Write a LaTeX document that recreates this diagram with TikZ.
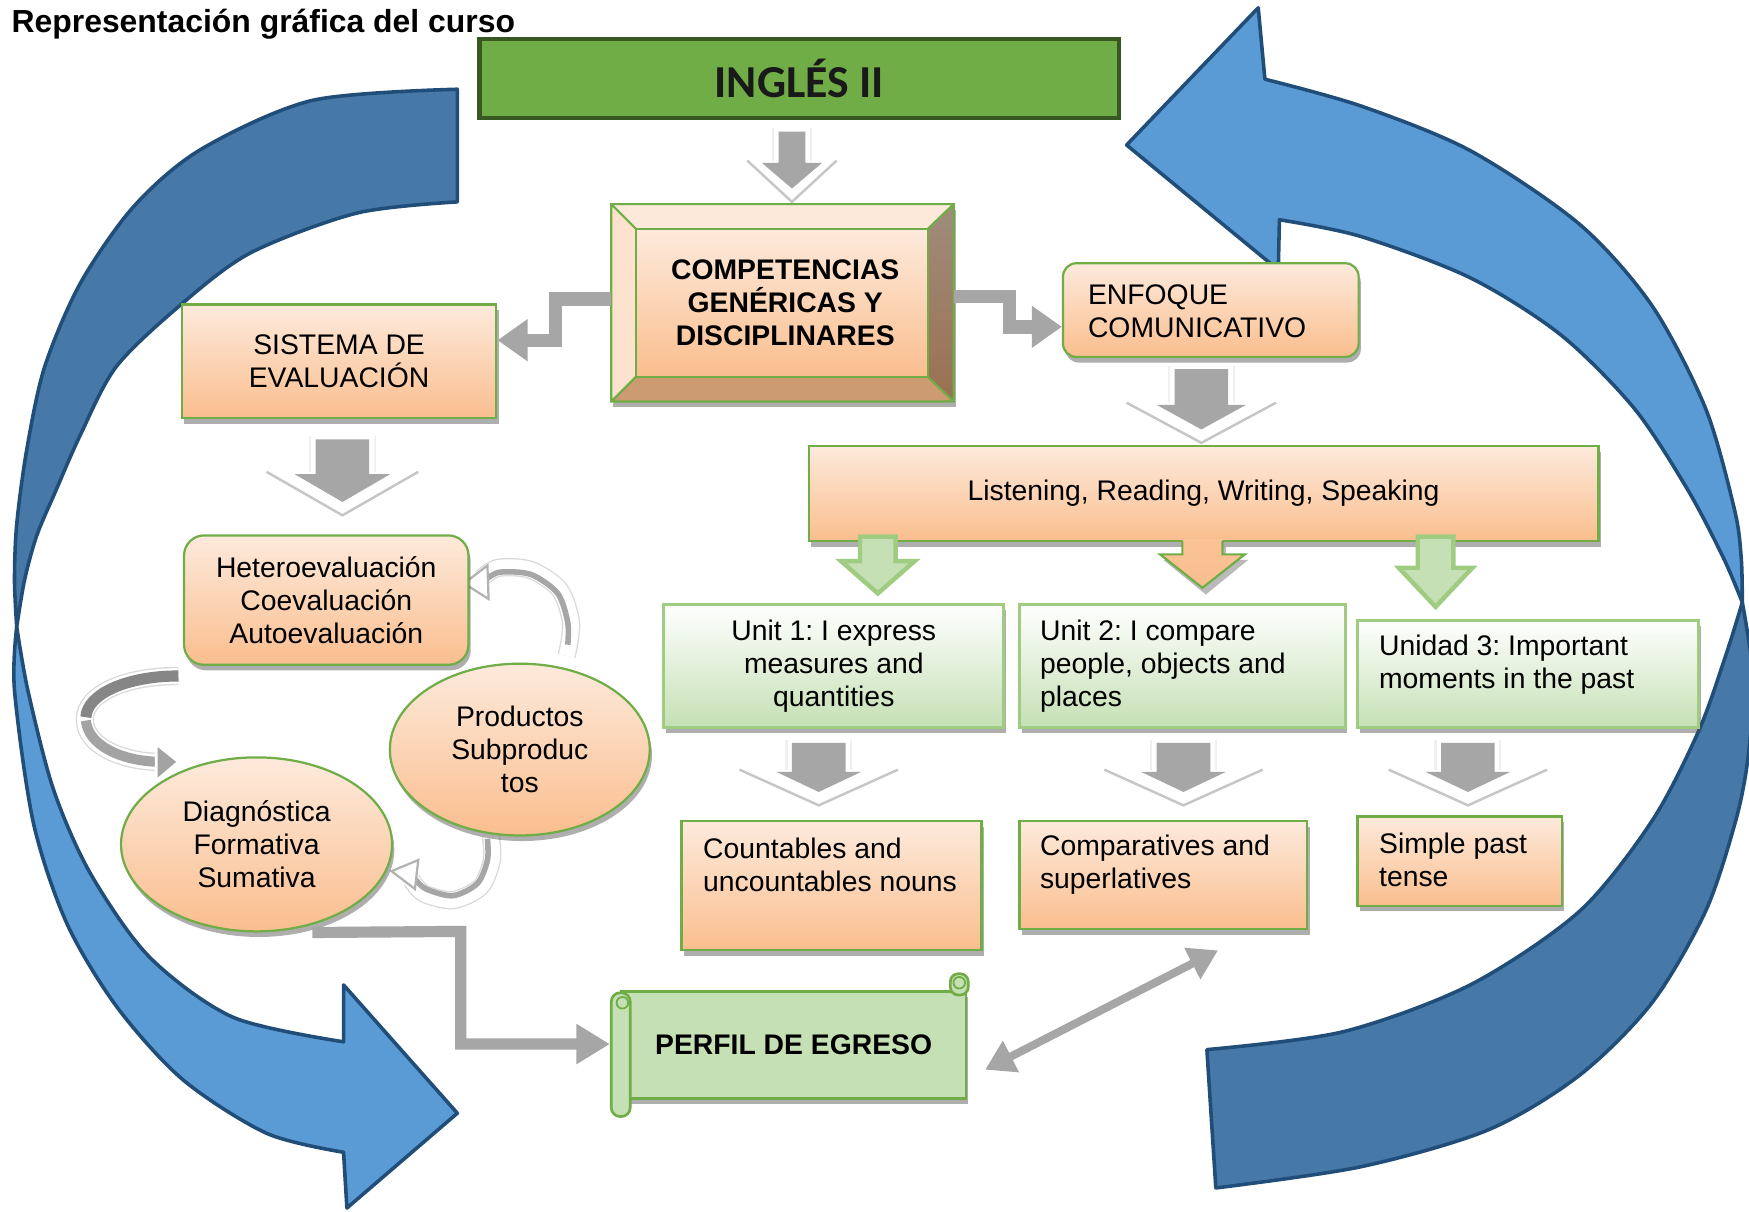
\documentclass[tikz,border=0pt]{standalone}
\usepackage{fontspec}
\setmainfont{Liberation Sans}
\newfontfamily\carlito{Carlito}
\usetikzlibrary{shapes.geometric,shadows,arrows.meta,calc}
\frenchspacing

\definecolor{peachtop}{RGB}{253,234,220}
\definecolor{peachbot}{RGB}{250,190,142}
\definecolor{peachmid}{RGB}{252,206,170}
\definecolor{bgreen}{RGB}{112,173,71}
\definecolor{lgreen}{RGB}{197,224,180}
\definecolor{mgreen}{RGB}{160,204,130}
\definecolor{inggreen}{RGB}{112,173,71}
\definecolor{ingborder}{RGB}{56,87,35}
\definecolor{gar}{RGB}{166,166,166}
\definecolor{bluel}{RGB}{91,155,213}
\definecolor{blued}{RGB}{70,121,168}
\definecolor{blueb}{RGB}{32,78,121}
\definecolor{bevtop}{RGB}{253,233,218}
\definecolor{bevleft}{RGB}{253,226,205}
\definecolor{bevbot}{RGB}{204,155,114}
\definecolor{bevrone}{RGB}{160,140,125}
\definecolor{bevrtwo}{RGB}{154,112,80}

\newcommand\gdown[8]{% name cx ytop yhead ytip s h c
  \fill[white] (#2-#8,#4-2) -- (#2,#5+12) -- (#2+#8,#4-2) -- cycle;
  \draw[gray!45, line width=1.1pt] (#2-#8,#4-2) -- (#2,#5+12) -- (#2+#8,#4-2);
  \draw[gray!12, line width=1pt] (#2-#6-5,#3-3) -- (#2-#6-5,#4-2) (#2+#6+5,#3-3) -- (#2+#6+5,#4-2);
  \fill[gar] (#2-#6,#3) -- (#2-#6,#4) -- (#2-#7,#4) -- (#2,#5) -- (#2+#7,#4) -- (#2+#6,#4) -- (#2+#6,#3) -- cycle;
  \coordinate (#1) at (#2,#5);}

\newcommand\blockdown[7]{% style cx ytop yhead ytip s h
  \path[#1] (#2-#6,#3) -- (#2-#6,#4) -- (#2-#7,#4) -- (#2,#5) -- (#2+#7,#4) -- (#2+#6,#4) -- (#2+#6,#3) -- cycle;}

\tikzset{
  txt/.style={font=\fontsize{12.7}{14.8}\selectfont, inner sep=0pt},
  btxt/.style={font=\bfseries\fontsize{12.7}{14.8}\selectfont, inner sep=0pt},
  shad/.style={drop shadow={shadow xshift=1pt, shadow yshift=-2.5pt, opacity=0.45, fill=black!70}},
  pbox/.style={rectangle, draw=bgreen, line width=1pt, top color=peachtop, bottom color=peachbot, shad, align=center, txt},
  gbox/.style={rectangle, draw=mgreen, line width=1.3pt, top color=white, bottom color=lgreen, shad, align=center, txt},
  pell/.style={ellipse, draw=bgreen, line width=1pt, top color=peachtop, bottom color=peachbot, shad, align=center, txt},
  blueL/.style={fill=bluel, draw=blueb, line width=1.6pt, line join=round},
  blueD/.style={fill=blued, draw=blueb, line width=1.6pt, line join=round},
  elb/.style={draw=gar, line width=6pt, -{Triangle[length=13.5pt,width=18pt]}},
  elbtwo/.style={draw=gar, line width=5pt, -{Triangle[length=15pt,width=17pt]}},
  cyc/.style={draw=gray!30, line width=0.6pt, double=white, double distance=7pt, line cap=butt},
}

\begin{document}
\begin{tikzpicture}[x=0.5pt,y=-0.5pt]
\useasboundingbox (0,0) rectangle (1568,1086);
\clip (0,0) rectangle (1568,1086);
\fill[white] (0,0) rectangle (1568,1086);

% ---------- big blue arrows ----------
\path[blueL] plot[smooth] coordinates {(15,562) (13,619) (30,738) (60,828) (105,903) (164,968) (239,1016) (308,1033)}
  -- (311,1083) -- (410,998) -- (308,883) -- (308,934)
  -- plot[smooth] coordinates {(308,934) (209,912) (134,858) (81,783) (48,708) (25,619) (15,562)} -- cycle;
\path[blueD] plot[smooth] coordinates {(410,80) (280,90) (180,134) (120,185) (72,254) (40,329) (24,403) (15,470) (13,520) (15,562)}
  -- plot[smooth] coordinates {(15,562) (22,520) (33,480) (50,440) (72,390) (104,329) (160,275) (224,227) (320,191) (410,181)} -- cycle;

\path[blueD] plot[smooth] coordinates {(1562,540) (1572,610) (1567,680) (1556,736) (1529,817) (1481,899) (1416,964) (1334,1013) (1220,1046) (1090,1065)}
  -- (1082,941)
  -- plot[smooth] coordinates {(1082,941) (1204,925) (1318,883) (1416,817) (1481,736) (1523,655) (1548,585) (1562,540)} -- cycle;
\path[blueL] (1134,71) -- (1128,7) -- (1010,130) -- (1146,242) -- (1147,197)
  -- plot[smooth] coordinates {(1147,197) (1220,212) (1318,249) (1399,300) (1465,366) (1513,439) (1545,500) (1562,540)}
  -- plot[smooth] coordinates {(1562,540) (1561,500) (1555,457) (1529,366) (1481,274) (1416,201) (1318,135) (1220,95) (1134,71)} -- cycle;

% ---------- title ----------
\node[anchor=base west, inner sep=0pt, font=\bfseries\fontsize{14.3}{17}\selectfont] (title) at (10,29) {Representación gráfica del curso};

% ---------- INGLES II ----------
\node[rectangle, fill=inggreen, draw=ingborder, line width=2pt, minimum width=286.5pt, minimum height=35.5pt, inner sep=0pt,
  font=\carlito\bfseries\fontsize{20.5}{24}\selectfont, text=black!90] (ingles) at (716.5,70.5) {INGLÉS II};

\gdown{aone}{710}{118}{146}{169}{12}{27}{40}

% ---------- COMPETENCIAS bevel box ----------
\fill[black!70, opacity=.45] (550,188) rectangle (857,365);
\fill[bevtop] (548,183) -- (855,183) -- (832,205) -- (570,205) -- cycle;
\fill[bevleft] (548,183) -- (570,205) -- (570,338) -- (548,360) -- cycle;
\shade[top color=bevrone, bottom color=bevrtwo] (855,183) -- (855,360) -- (832,338) -- (832,205) -- cycle;
\fill[bevbot] (548,360) -- (855,360) -- (832,338) -- (570,338) -- cycle;
\draw[bgreen, line width=1pt] (548,183) rectangle (855,360) (548,183) -- (570,205) (855,183) -- (832,205) (548,360) -- (570,338) (855,360) -- (832,338);
\node[rectangle, minimum width=153.5pt, minimum height=88.5pt, inner sep=0pt] (compo) at (701.5,271.5) {};
\node[rectangle, draw=bgreen, line width=1pt, top color=peachtop, bottom color=peachbot, minimum width=131pt, minimum height=66.5pt, inner sep=0pt] (comp) at (701,271.5) {};
\node[btxt, align=center] (compt) at (704,271) {COMPETENCIAS\\GENÉRICAS Y\\DISCIPLINARES};

% ---------- SISTEMA / ENFOQUE ----------
\node[pbox, minimum width=141pt, minimum height=51pt] (sist) at (304,324) {SISTEMA DE\\EVALUACIÓN};
\node[pbox, rounded corners=6pt, minimum width=132.5pt, minimum height=42pt] (enf) at (1085.5,278) {};
\node[txt, anchor=west, align=left] (enft) at (975,279) {ENFOQUE\\COMUNICATIVO};

\draw[elb] (compo.west |- 0,268) -- (498,268) -- (498,305) -- (sist.east |- 0,305);
\draw[elb] (compo.east |- 0,266) -- (905,266) -- (905,293) -- (enf.west |- 0,293);

\gdown{atwo}{307}{394}{425}{450}{24}{43}{68}
\gdown{athree}{1077}{331}{363}{385}{24}{40}{67}

% ---------- Listening ----------
\node[pbox, minimum width=354pt, minimum height=42.5pt] (list) at (1079,442.5) {Listening, Reading, Writing, Speaking};

\blockdown{fill=lgreen, draw=mgreen, line width=2pt, line join=miter}{787}{481}{503}{532}{16}{33}
\blockdown{fill=lgreen, draw=mgreen, line width=2pt, line join=miter}{1287}{481}{509}{544}{16}{33}
\blockdown{fill=black!60, opacity=.45}{1081}{490}{502}{533}{18}{38}
\blockdown{top color=peachbot!70!peachmid, bottom color=peachbot}{1078}{483}{497}{527}{18}{38}
\draw[bgreen, line width=1pt, line join=miter] (1060,485) -- (1060,497) -- (1040,497) -- (1078,527) -- (1116,497) -- (1096,497) -- (1096,485);

% ---------- Units ----------
\node[gbox, minimum width=152.5pt, minimum height=55pt] (uone) at (747.5,597) {Unit 1: I express\\measures and\\quantities};
\node[gbox, minimum width=146pt, minimum height=55pt] (utwo) at (1060,597) {};
\node[txt, anchor=west, align=left] (utwot) at (932,597) {Unit 2: I compare\\people, objects and\\places};
\node[gbox, minimum width=153pt, minimum height=48pt] (uthree) at (1370,604) {};
\node[txt, anchor=west, align=left] (uthreet) at (1236,596) {Unidad 3: Important\\moments in the past};

\gdown{afour}{734}{666}{692}{710}{24}{38}{71}
\gdown{afive}{1061}{666}{692}{710}{24}{38}{71}
\gdown{asix}{1316}{666}{692}{710}{24}{38}{71}

\node[pbox, minimum width=134.5pt, minimum height=58pt] (cnt) at (745.5,794) {};
\node[txt, anchor=west, align=left] (cntt) at (630,775) {Countables and\\uncountables nouns};
\node[pbox, minimum width=129pt, minimum height=48.5pt] (cmp) at (1043,784.5) {};
\node[txt, anchor=west, align=left] (cmpt) at (932,775) {Comparatives and\\superlatives};
\node[pbox, minimum width=91.5pt, minimum height=40pt] (sp) at (1308.5,772) {};
\node[txt, anchor=west, align=left] (spt) at (1236,771) {Simple past\\tense};

% ---------- evaluation cycle ----------
\draw[cyc] (160,606) .. controls (112,606) and (76,622) .. (76,645) .. controls (76,668) and (108,682) .. (140,683);
\draw[gray!95, line width=5pt] (160,606) .. controls (114,606) and (78,622) .. (77,643);
\draw[gray!72, line width=4.5pt] (77,646) .. controls (79,668) and (108,682) .. (142,683);
\filldraw[fill=gray!72, draw=white, line width=1.2pt] (140,667) -- (160,683) -- (140,700) -- cycle;
\draw[cyc] plot[smooth] coordinates {(508,588) (512,559) (502,529) (476,511) (447,509) (432,518)};
\draw[gray!70, line width=2.5pt] plot[smooth] coordinates {(509,578) (509,558) (500,532) (476,515) (448,513) (435,520)};
\filldraw[fill=white, draw=gray!60, line width=1pt] (437,507) -- (416,523) -- (438,537) -- cycle;
\draw[cyc] plot[smooth] coordinates {(440,749) (441,771) (431,795) (406,807) (380,801) (369,789)};
\draw[gray!70, line width=2.5pt] plot[smooth] coordinates {(437,752) (437,771) (428,792) (406,803) (382,797) (372,788)};
\filldraw[fill=white, draw=gray!60, line width=1pt] (375,771) -- (351,781) -- (372,797) -- cycle;

\node[pbox, rounded corners=9pt, minimum width=127.5pt, minimum height=58pt] (het) at (292.5,538) {Heteroevaluación\\Coevaluación\\Autoevaluación};
\node[pell, minimum width=116.5pt, minimum height=77pt] (prod) at (466,672) {Productos\\Subproduc\\tos};
\node[pell, minimum width=121.5pt, minimum height=78pt] (diag) at (230,757) {Diagnóstica\\Formativa\\Sumativa};

% ---------- PERFIL DE EGRESO scroll ----------
\node[rectangle, fill=lgreen, draw=bgreen, line width=1.2pt, minimum width=154.5pt, minimum height=48pt, inner sep=0pt, shad, btxt] (perfil) at (711.5,937) {PERFIL DE EGRESO};
\filldraw[fill=lgreen, draw=bgreen, line width=1.2pt, rounded corners=3.5pt] (852,892) rectangle (868,873);
\draw[bgreen, line width=0.8pt] (860,881) circle (2.6pt);
\node[rectangle, rounded corners=4pt, fill=lgreen, draw=bgreen, line width=1.2pt, minimum width=8.5pt, minimum height=55.5pt, inner sep=0pt] (proll) at (556.5,945.5) {};
\draw[bgreen, line width=0.8pt] (558,899) circle (2.6pt);

\draw[elbtwo] (diag.south -| 280,0) -- (413,835) -- (413,936) -- (proll.west |- 0,936);
\draw[gar, line width=3.6pt, {Triangle[length=13pt,width=15pt]}-{Triangle[length=13pt,width=15pt]}]
  ($(perfil.east)+(16,22)$) -- ($(cmp.south west)+(179,18)$);
\end{tikzpicture}
\end{document}
